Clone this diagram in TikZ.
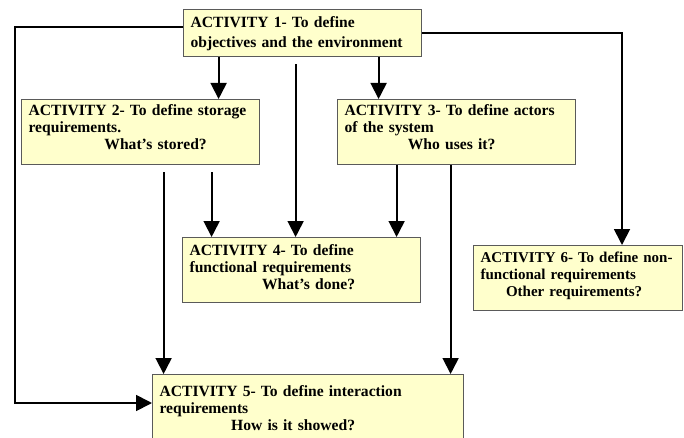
\documentclass[tikz,border=0pt]{standalone}
\usepackage{fontspec}
\setmainfont{Liberation Serif}
\usetikzlibrary{arrows.meta}
\definecolor{boxfill}{HTML}{FFFFCC}
\definecolor{boxgray}{HTML}{5A5A5A}
\tikzset{
  box/.style={draw=boxgray, line width=1.2pt, fill=boxfill, anchor=north west,
    align=left, inner xsep=7pt, inner ysep=0pt,
    font=\bfseries\fontsize{15.6}{17}\selectfont},
  arr/.style={line width=1.8pt, -{Triangle[width=16pt,length=16pt]}},
}
\begin{document}
\begin{tikzpicture}[x=1pt,y=1pt]
\clip (0,0) rectangle (684,-438);
\fill[white] (0,0) rectangle (684,-438);

\node[box, minimum width=238pt, text width=224pt, text height=18pt, text depth=29pt,
  font=\bfseries\fontsize{15.6}{20}\selectfont] (a1) at (183,-9)
  {ACTIVITY 1- To define\\objectives and the environment};
\node[box, minimum width=238pt, text width=224pt, text height=16pt, text depth=49pt] (a2) at (21,-99)
  {ACTIVITY 2- To define storage\\requirements.\\\centerline{\hspace*{30pt}What’s stored?}};
\node[box, minimum width=238pt, text width=224pt, text height=16pt, text depth=49pt] (a3) at (337,-99)
  {ACTIVITY 3- To define actors\\of the system\\\centerline{Who uses it?\hspace*{10pt}}};
\node[box, minimum width=238pt, text width=224pt, text height=18pt, text depth=47pt] (a4) at (182,-237)
  {ACTIVITY 4- To define\\functional requirements\\\centerline{\hspace*{14pt}What’s done?}};
\node[box, minimum width=209pt, text width=195pt, text height=17pt, text depth=48pt,
  inner xsep=7pt, font=\bfseries\fontsize{15}{17}\selectfont] (a6) at (473,-245)
  {\mbox{ACTIVITY 6- To define non-}\\functional requirements\\\centerline{Other requirements?\hspace*{8pt}}};
\node[box, minimum width=311pt, text width=297pt, text height=22pt, text depth=50pt] (a5) at (152,-374)
  {ACTIVITY 5- To define interaction\\requirements\\\centerline{How is it showed?\hspace*{30pt}}};

\coordinate (L1) at (15,-27);
\coordinate (L2) at (15,-403);
\coordinate (R1) at (622,-33);

% long side connectors
\draw[arr] (a1.west |- L1) -- (L1) -- (L2) -- (a5.west |- L2);
\draw[arr] (a1.east |- R1) -- (R1) -- (R1 |- a6.north);

% from activity 1
\draw[arr] ([xshift=-84pt]a1.south) -- ([xshift=-84pt]a1.south |- a2.north);
\draw[arr] ([xshift=76pt]a1.south) -- ([xshift=76pt]a1.south |- a3.north);
\draw[arr] ([xshift=-7pt,yshift=-7pt]a1.south) -- ([xshift=-7pt]a1.south |- a4.north);

% from activity 2
\draw[arr] ([xshift=23pt,yshift=-7pt]a2.south) -- ([xshift=23pt]a2.south |- a5.north);
\draw[arr] ([xshift=71pt,yshift=-7pt]a2.south) -- ([xshift=71pt]a2.south |- a4.north);

% from activity 3
\draw[arr] ([xshift=-60pt]a3.south) -- ([xshift=-60pt]a3.south |- a4.north);
\draw[arr] ([xshift=-6pt]a3.south) -- ([xshift=-6pt]a3.south |- a5.north);
\end{tikzpicture}
\end{document}
